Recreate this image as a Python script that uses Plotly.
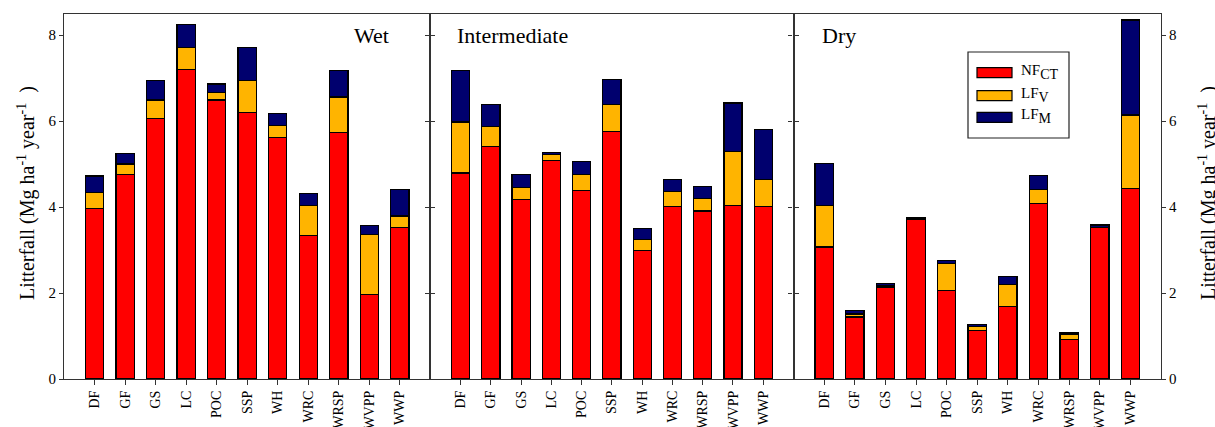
import plotly.graph_objects as go

# Litterfall components per forest type under three moisture regimes (Mg ha-1 year-1)
categories = ["DF", "GF", "GS", "LC", "POC", "SSP", "WH", "WRC", "WRSP", "WVPP", "WWP"]
regimes = ["Wet", "Intermediate", "Dry"]

wet_nfct = [3.96, 4.76, 6.06, 7.20, 6.49, 6.19, 5.62, 3.34, 5.74, 1.97, 3.53]
wet_lfv = [0.37, 0.24, 0.43, 0.52, 0.17, 0.75, 0.27, 0.70, 0.82, 1.40, 0.26]
wet_lfm = [0.39, 0.25, 0.45, 0.53, 0.20, 0.77, 0.28, 0.27, 0.62, 0.20, 0.62]

int_nfct = [4.79, 5.40, 4.18, 5.08, 4.39, 5.76, 2.99, 4.02, 3.91, 4.03, 4.01]
int_lfv = [1.19, 0.47, 0.28, 0.15, 0.36, 0.62, 0.25, 0.35, 0.29, 1.26, 0.63]
int_lfm = [1.20, 0.51, 0.30, 0.03, 0.31, 0.59, 0.26, 0.27, 0.28, 1.13, 1.16]

dry_nfct = [3.07, 1.44, 2.14, 3.72, 2.05, 1.13, 1.69, 4.09, 0.92, 3.52, 4.43]
dry_lfv = [0.97, 0.07, 0.03, 0.00, 0.63, 0.10, 0.51, 0.32, 0.12, 0.01, 1.71]
dry_lfm = [0.98, 0.08, 0.05, 0.04, 0.07, 0.03, 0.19, 0.32, 0.03, 0.05, 2.21]

y_ticks = [0, 2, 4, 6, 8]
component_names = ["NF<sub>CT</sub>", "LF<sub>V</sub>", "LF<sub>M</sub>"]
legend_labels = [
    "<span style='font-size:15px'>NF</span><sub>CT</sub>",
    "<span style='font-size:15px'>LF</span><sub>V</sub>",
    "<span style='font-size:15px'>LF</span><sub>M</sub>",
]
component_colors = ["#ff0000", "#ffb400", "#00006e"]
y_title = "Litterfall (Mg ha<sup>-1</sup> year<sup>-1</sup>  )"

panels = [
    (wet_nfct, wet_lfv, wet_lfm),
    (int_nfct, int_lfv, int_lfm),
    (dry_nfct, dry_lfv, dry_lfm),
]

FONT = "Liberation Serif, Times New Roman, serif"
W, H = 1215, 427
ML, MR, MT, MB = 64, 54, 14, 48
PW, PH = W - ML - MR, H - MT - MB


def px(x):
    return (x - ML) / PW


def py(y):
    return (H - MB - y) / PH


fig = go.Figure()
domains = [[0, 0.334], [0.334, 0.665], [0.665, 1.0]]

for i, comps in enumerate(panels):
    xa = "x" if i == 0 else f"x{i + 1}"
    ya = "y" if i == 0 else f"y{i + 1}"
    for vals, name, col in zip(comps, component_names, component_colors):
        fig.add_trace(go.Bar(
            x=categories, y=vals, name=name, xaxis=xa, yaxis=ya,
            marker=dict(color=col, line=dict(color="#000000", width=1.2)),
            width=0.6, showlegend=False,
        ))

axis_line = "#333333"
for i in range(3):
    suffix = "" if i == 0 else str(i + 1)
    fig.layout["xaxis" + suffix] = dict(
        domain=domains[i], anchor="y" + suffix, type="category",
        categoryorder="array", categoryarray=categories,
        range=[-1, 11], showline=True, linecolor=axis_line, linewidth=1.2,
        mirror=True, ticks="outside", ticklen=5, tickcolor=axis_line,
        tickangle=-90, tickfont=dict(family=FONT, size=14, color="#000"),
        showgrid=False, zeroline=False, automargin=False,
    )
    ydict = dict(
        domain=[0, 1], anchor="x" + suffix, range=[0, 8.49],
        tickvals=y_ticks, showline=True, linecolor=axis_line, linewidth=1.2,
        mirror="ticks", ticks="outside", ticklen=4, tickcolor=axis_line,
        showgrid=False, zeroline=False, automargin=False,
        tickfont=dict(family=FONT, size=15, color="#000"),
    )
    if i == 0:
        ydict.update(showticklabels=True, side="left")
    elif i == 1:
        ydict.update(showticklabels=False, matches="y")
    else:
        ydict.update(showticklabels=True, side="right", matches="y")
    fig.layout["yaxis" + suffix] = ydict

# Axis titles on both outer sides
for xc in (26, 1207):
    fig.add_annotation(x=px(xc), y=py(193), xref="paper", yref="paper",
                       text=y_title, textangle=-90, showarrow=False,
                       xanchor="center", yanchor="middle",
                       font=dict(family=FONT, size=20, color="#000"))

# Regime labels inside each panel
label_pos = [(px(391), "right"), (px(455), "left"), (px(820), "left")]
for (xp, anchor), lab in zip(label_pos, regimes):
    fig.add_annotation(x=xp, y=py(36), xref="paper", yref="paper", text=lab,
                       showarrow=False, xanchor=anchor, yanchor="middle",
                       font=dict(family=FONT, size=22, color="#000"))

# Legend box with wide swatches
fig.add_shape(type="rect", xref="paper", yref="paper",
              x0=px(968), x1=px(1069), y0=py(138), y1=py(52),
              line=dict(color="#222", width=1.2), fillcolor="white")
legend_rows = [72.7, 95.7, 117.3]
for yc, name, col in zip(legend_rows, legend_labels, component_colors):
    fig.add_shape(type="rect", xref="paper", yref="paper",
                  x0=px(977), x1=px(1012), y0=py(yc + 5), y1=py(yc - 5),
                  line=dict(color="#000", width=1.2), fillcolor=col)
    fig.add_annotation(x=px(1019), y=py(yc - 1), xref="paper", yref="paper",
                       text=name, showarrow=False, xanchor="left", yanchor="middle",
                       font=dict(family=FONT, size=20, color="#000"))

fig.update_layout(
    barmode="stack", width=W, height=H,
    margin=dict(l=ML, r=MR, t=MT, b=MB, autoexpand=False),
    plot_bgcolor="white", paper_bgcolor="white",
    showlegend=False, bargap=0.4,
)

fig.write_html("out.html")
